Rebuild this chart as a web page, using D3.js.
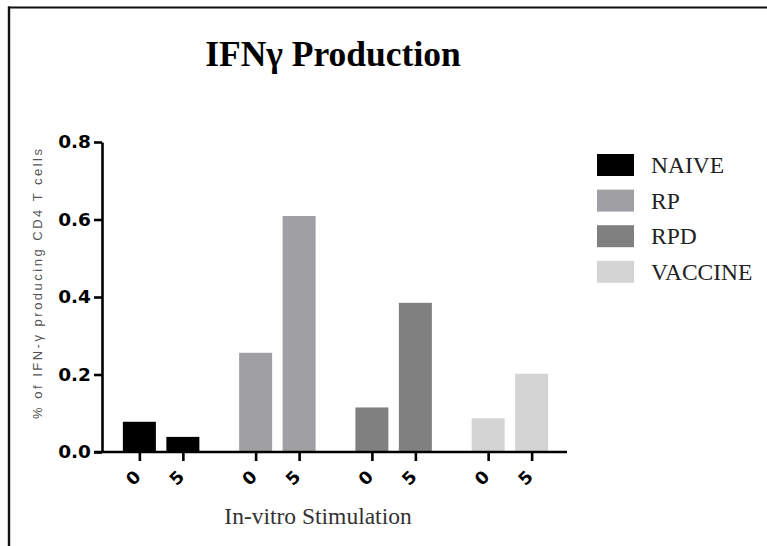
<!DOCTYPE html>
<html>
<head>
<meta charset="utf-8">
<script src="https://cdn.jsdelivr.net/npm/d3@7"></script>
<style>
  html, body { margin: 0; padding: 0; background: #fff; }
  svg { display: block; }
</style>
</head>
<body>
<svg id="chart" width="767" height="546"></svg>
<script>
// Groups (legend series) and stimulation levels
const groups = ["NAIVE", "RP", "RPD", "VACCINE"];
const stimulations = ["0", "5"];
// % of IFN-γ producing CD4 T cells, per group, for stimulation 0 and 5
const naiveValues = [0.078, 0.039];
const rpValues = [0.256, 0.609];
const rpdValues = [0.115, 0.385];
const vaccineValues = [0.087, 0.202];
const yTicks = [0.0, 0.2, 0.4, 0.6, 0.8];

const colors = { NAIVE: "#000000", RP: "#a0a0a4", RPD: "#808080", VACCINE: "#d4d4d4" };
const seriesValues = { NAIVE: naiveValues, RP: rpValues, RPD: rpdValues, VACCINE: vaccineValues };

const bars = [];
groups.forEach(g => stimulations.forEach((s, i) => bars.push({ group: g, stim: s, key: g + "|" + s, value: seriesValues[g][i] })));

const svg = d3.select("#chart");

// Frame lines along the top and left edges
svg.append("line").attr("x1", 8).attr("x2", 767).attr("y1", 7.5).attr("y2", 7.5)
  .attr("stroke", "#111").attr("stroke-width", 2.2);
svg.append("line").attr("x1", 9).attr("x2", 9).attr("y1", 6.5).attr("y2", 546)
  .attr("stroke", "#111").attr("stroke-width", 2.4);

const y = d3.scaleLinear().domain([0, 0.8]).range([452, 142]);
const x0 = d3.scaleBand().domain(groups).range([103, 568]).paddingInner(0).paddingOuter(0);
const x1 = d3.scaleBand().domain(stimulations).range([0, x0.bandwidth()])
  .paddingInner(0.241).paddingOuter(0.457);

// Bars
svg.append("g").selectAll("rect").data(bars).join("rect")
  .attr("x", d => x0(d.group) + x1(d.stim))
  .attr("width", x1.bandwidth())
  .attr("y", d => y(d.value))
  .attr("height", d => y(0) - y(d.value))
  .attr("fill", d => colors[d.group]);

// Y axis
const yAxis = svg.append("g").attr("transform", "translate(102,0)")
  .call(d3.axisLeft(y).tickValues(yTicks).tickFormat(d3.format(".1f")).tickSize(8).tickSizeOuter(0).tickPadding(3));
yAxis.select(".domain").attr("stroke", "#000").attr("stroke-width", 2.6);
yAxis.selectAll(".tick line").attr("stroke", "#000").attr("stroke-width", 2.6);
yAxis.selectAll(".tick text")
  .attr("font-family", "'DejaVu Sans', sans-serif").attr("font-weight", "bold")
  .attr("font-size", 18.5).attr("fill", "#000");

// X axis: one tick per bar, centred on it
const xBar = d3.scaleOrdinal().domain(bars.map(d => d.key))
  .range(bars.map(d => x0(d.group) + x1(d.stim) + x1.bandwidth() / 2));
const xAxis = svg.append("g").attr("transform", "translate(0,452)")
  .call(d3.axisBottom(xBar).tickSize(9).tickSizeOuter(0).tickFormat(k => k.split("|")[1]));
xAxis.select(".domain").remove();
xAxis.append("line").attr("x1", 94).attr("x2", 567).attr("y1", 0).attr("y2", 0)
  .attr("stroke", "#000").attr("stroke-width", 2.6);
xAxis.selectAll(".tick line").attr("stroke", "#000").attr("stroke-width", 2.6);
xAxis.selectAll(".tick text")
  .attr("font-family", "'DejaVu Sans', sans-serif").attr("font-weight", "bold")
  .attr("font-size", 17.5).attr("fill", "#000")
  .attr("text-anchor", "middle").attr("dominant-baseline", "central")
  .attr("y", 0).attr("dy", 0)
  .attr("transform", "translate(-6.5,26) rotate(-45)");

// Y axis title
svg.append("text")
  .attr("transform", "translate(42,284) rotate(-90)")
  .attr("text-anchor", "middle")
  .attr("font-family", "'Liberation Sans', Arial, sans-serif")
  .attr("font-size", 13).attr("fill", "#555")
  .attr("textLength", 270).attr("lengthAdjust", "spacing")
  .text("% of IFN-γ producing CD4 T cells");

// X axis title
svg.append("text")
  .attr("x", 318).attr("y", 524)
  .attr("text-anchor", "middle")
  .attr("font-family", "'Liberation Serif', serif")
  .attr("font-size", 23.5).attr("fill", "#333")
  .text("In-vitro Stimulation");

// Chart title
svg.append("text")
  .attr("x", 333).attr("y", 66)
  .attr("text-anchor", "middle")
  .attr("font-family", "'Liberation Serif', serif").attr("font-weight", "bold")
  .attr("font-size", 35.5).attr("fill", "#000")
  .text("IFNγ Production");

// Legend
const legend = svg.append("g").selectAll("g").data(groups).join("g")
  .attr("transform", (d, i) => `translate(597,${154 + i * 35.6})`);
legend.append("rect").attr("width", 37).attr("height", 22).attr("fill", d => colors[d]);
legend.append("text").attr("x", 54).attr("y", 19)
  .attr("font-family", "'Liberation Serif', serif")
  .attr("font-size", 23.5).attr("fill", "#222")
  .text(d => d);
</script>
</body>
</html>
